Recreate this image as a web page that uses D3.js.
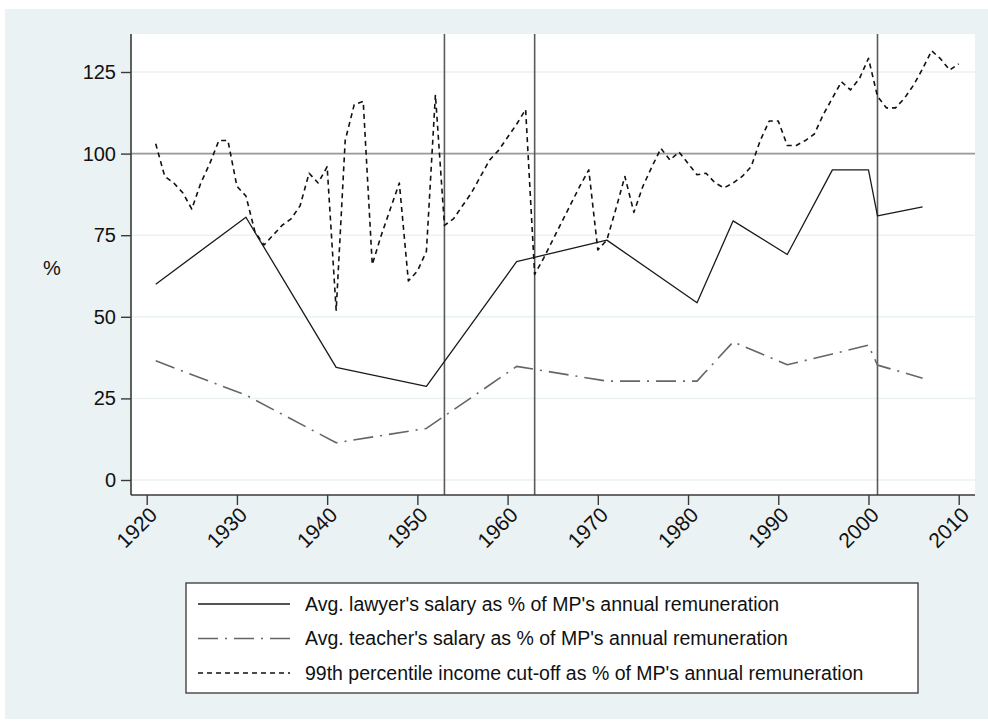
<!DOCTYPE html>
<html>
<head>
<meta charset="utf-8">
<script src="https://cdn.jsdelivr.net/npm/d3@7"></script>
<style>
  body { margin: 0; background: #fff; }
  svg { font-family: "Liberation Sans", Arial, sans-serif; }
</style>
</head>
<body>
<div id="svg-container"></div>
<script>
// data
const lawyerYears = [1921, 1931, 1941, 1951, 1961, 1971, 1981, 1985, 1991, 1996, 2000, 2001, 2006];
const lawyerVals = [60, 80.5, 34.5, 28.7, 66.9, 73.5, 54.3, 79.4, 69.1, 95, 95, 80.9, 83.7];

const teacherYears = [1921, 1931, 1941, 1951, 1961, 1971, 1981, 1985, 1991, 1996, 2000, 2001, 2006];
const teacherVals = [36.5, 26, 11.4, 15.8, 34.8, 30.3, 30.3, 42.3, 35.3, 38.6, 41.3, 35.2, 31.2];

const topYears = d3.range(1921, 2011);
const topVals = [
  103, 93, 91, 88, 83, 91, 97, 104, 104, 90,   // 1921-1930
  87, 76, 72, 75, 78, 80, 84, 94, 91, 96,      // 1931-1940
  52, 104, 115, 116, 66, 75, 83, 91, 61, 64,   // 1941-1950
  70, 118, 78, 80, 84, 88, 93, 98, 101, 105,   // 1951-1960
  109, 113.5, 63, 68, 73.5, 79, 84.5, 90, 95, 70.5, // 1961-1970
  73.5, 83, 93, 82, 90, 96, 101.6, 98, 100.5, 97, // 1971-1980
  93.5, 94, 91, 89.5, 91, 93, 96, 104, 110, 110, // 1981-1990
  102.5, 102.5, 104, 106, 112, 117, 122, 119.5, 123, 129.2, // 1991-2000
  117.5, 114, 114, 117, 121, 126, 131.5, 129, 125.6, 127.5  // 2001-2010
];

const yTicks = [0, 25, 50, 75, 100, 125];
const xTicks = d3.range(1920, 2011, 10);
const vLines = [1953, 1963, 2001];
const refLine = 100;

const legendLabels = [
  "Avg. lawyer's salary as % of MP's annual remuneration",
  "Avg. teacher's salary as % of MP's annual remuneration",
  "99th percentile income cut-off as % of MP's annual remuneration"
];

////////////////////////////////////////////////////////////////////
////////////////////////////  Init  ///////////////////////////////
const width = 988, height = 724;
const plot = { left: 131, right: 975, top: 34, bottom: 495 };

const svg = d3.select("#svg-container").append("svg")
  .attr("width", width).attr("height", height);

// scales
const xScale = d3.scaleLinear().domain([1920, 2010]).range([146.7, 958.7]);
const yScale = d3.scaleLinear().domain([0, 125]).range([480, 72]);

// backgrounds
svg.append("rect").attr("x", 5).attr("y", 9).attr("width", width - 5).attr("height", 710)
  .attr("fill", "#eaf2f3");
svg.append("rect").attr("x", plot.left).attr("y", plot.top)
  .attr("width", plot.right - plot.left).attr("height", plot.bottom - plot.top)
  .attr("fill", "#fff");

// gridlines
svg.append("g").selectAll("line").data(yTicks).join("line")
  .attr("x1", plot.left).attr("x2", plot.right)
  .attr("y1", (d) => yScale(d)).attr("y2", (d) => yScale(d))
  .attr("stroke", "#eaf2f3").attr("stroke-width", 1.5);

// reference line at 100
svg.append("line")
  .attr("x1", plot.left).attr("x2", plot.right)
  .attr("y1", yScale(refLine)).attr("y2", yScale(refLine))
  .attr("stroke", "#9a9a9a").attr("stroke-width", 1.6);

// vertical lines
svg.append("g").selectAll("line").data(vLines).join("line")
  .attr("x1", (d) => xScale(d)).attr("x2", (d) => xScale(d))
  .attr("y1", plot.top).attr("y2", plot.bottom)
  .attr("stroke", "#5a5a5a").attr("stroke-width", 1.6);

// lines
const line = d3.line().x((d) => xScale(d[0])).y((d) => yScale(d[1]));

const series = [
  { data: d3.zip(lawyerYears, lawyerVals), color: "#1a1a1a", dash: null, w: 1.3 },
  { data: d3.zip(teacherYears, teacherVals), color: "#666", dash: "20,7,2,7", w: 1.6 },
  { data: d3.zip(topYears, topVals), color: "#111", dash: "5,4", w: 1.6 }
];

series.forEach((s) => {
  svg.append("path").datum(s.data)
    .attr("fill", "none").attr("stroke", s.color)
    .attr("stroke-width", s.w)
    .attr("stroke-dasharray", s.dash)
    .attr("stroke-linejoin", "round")
    .attr("d", line);
});

// axes
const yAxis = d3.axisLeft(yScale).tickValues(yTicks).tickSize(10).tickPadding(5);
const gy = svg.append("g").attr("transform", `translate(${plot.left},0)`).call(yAxis);
gy.select(".domain").attr("d", `M0,${plot.top}V${plot.bottom}`);

const xAxis = d3.axisBottom(xScale).tickValues(xTicks).tickSize(10).tickFormat(d3.format("d"));
const gx = svg.append("g").attr("transform", `translate(0,${plot.bottom})`).call(xAxis);
gx.select(".domain").attr("d", `M${plot.left},0H${plot.right}`);

[gx, gy].forEach((g) => {
  g.select(".domain").attr("stroke", "#3a3a3a").attr("stroke-width", 1.6);
  g.selectAll(".tick line").attr("stroke", "#3a3a3a").attr("stroke-width", 1.4);
  g.selectAll("text").attr("font-size", 20).attr("fill", "#111")
    .attr("font-family", "Liberation Sans, Arial, sans-serif");
});

gx.selectAll("text")
  .attr("font-size", 21)
  .attr("text-anchor", "end")
  .attr("x", 0).attr("y", 0)
  .attr("dx", 0).attr("dy", "0.35em")
  .attr("transform", "translate(6,16) rotate(-45)");

// y title
svg.append("text").attr("x", 52).attr("y", 275).attr("text-anchor", "middle")
  .attr("font-size", 20).attr("fill", "#111").text("%");

// legend
const legend = svg.append("g");
legend.append("rect").attr("x", 186).attr("y", 583).attr("width", 732).attr("height", 110)
  .attr("fill", "#fff").attr("stroke", "#444").attr("stroke-width", 1.4);

legendLabels.forEach((lab, i) => {
  const y = 604 + i * 34.5;
  const s = series[i];
  legend.append("line").attr("x1", 198).attr("x2", 290).attr("y1", y).attr("y2", y)
    .attr("stroke", s.color).attr("stroke-width", s.w)
    .attr("stroke-dasharray", s.dash);
  legend.append("text").attr("x", 305).attr("y", y).attr("dy", "0.35em")
    .attr("font-size", 19.5).attr("fill", "#111").text(lab);
});
</script>
</body>
</html>
